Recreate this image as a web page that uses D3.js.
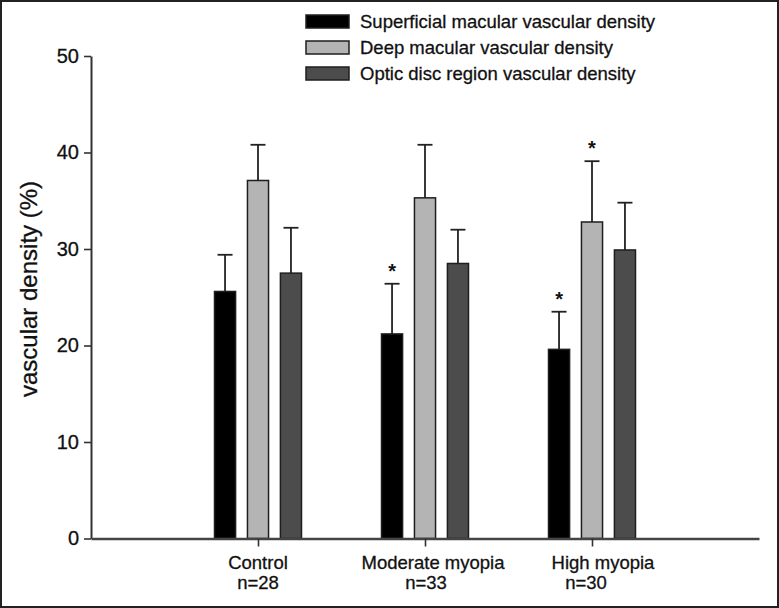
<!DOCTYPE html>
<html><head><meta charset="utf-8">
<script src="https://cdn.jsdelivr.net/npm/d3@7"></script>
<style>body{margin:0;background:#fff} text{font-family:Arial,"Liberation Sans",sans-serif}</style>
</head><body><svg id="c" width="779" height="608"></svg>
<script>
const categories = ["Control","Moderate myopia","High myopia"];
const groupSizes = ["n=28","n=33","n=30"];
const seriesNames = ["Superficial macular vascular density","Deep macular vascular density","Optic disc region vascular density"];
const superficial = [25.6, 21.2, 19.6];
const superficialSD = [3.8, 5.2, 3.9];
const deep = [37.1, 35.3, 32.8];
const deepSD = [3.7, 5.5, 6.3];
const optic = [27.5, 28.5, 29.9];
const opticSD = [4.7, 3.5, 4.9];
const superficialSig = [false, true, true];
const deepSig = [false, false, true];
const opticSig = [false, false, false];
const yTicks = [0, 10, 20, 30, 40, 50];
const seriesColors = ["#000000", "#b4b4b4", "#4c4c4c"];

const series = [
  {name: seriesNames[0], values: superficial, sd: superficialSD, sig: superficialSig, color: seriesColors[0]},
  {name: seriesNames[1], values: deep, sd: deepSD, sig: deepSig, color: seriesColors[1]},
  {name: seriesNames[2], values: optic, sd: opticSD, sig: opticSig, color: seriesColors[2]}
];

const svg = d3.select("#c");
const W = 779, H = 608;
const y = d3.scaleLinear().domain([0, 50]).range([538.5, 56]);
const x = d3.scaleLinear().domain([0, categories.length + 1]).range([91, 759]);
const xs = d3.scaleBand().domain(d3.range(series.length)).range([-43.5, 43.5]).paddingInner(0.36).paddingOuter(0);

// frame
svg.append("rect").attr("x", 1).attr("y", 1).attr("width", W - 2).attr("height", H - 2)
  .attr("fill", "#fff").attr("stroke", "#222").attr("stroke-width", 2);

// bars
const data = [];
series.forEach((s, si) => categories.forEach((c, ci) => data.push({si, ci, v: s.values[ci], sd: s.sd[ci], sig: s.sig[ci], color: s.color})));

const g = svg.append("g");
g.selectAll("rect.bar").data(data).enter().append("rect").attr("class", "bar")
  .attr("x", d => x(d.ci + 1) + xs(d.si))
  .attr("width", xs.bandwidth())
  .attr("y", d => y(d.v))
  .attr("height", d => y(0) - y(d.v))
  .attr("fill", d => d.color)
  .attr("stroke", "#1e1e1e").attr("stroke-width", 1.5);

// error bars
const cap = 15;
g.selectAll("line.err").data(data).enter().append("line").attr("class", "err")
  .attr("x1", d => x(d.ci + 1) + xs(d.si) + xs.bandwidth() / 2)
  .attr("x2", d => x(d.ci + 1) + xs(d.si) + xs.bandwidth() / 2)
  .attr("y1", d => y(d.v)).attr("y2", d => y(d.v + d.sd))
  .attr("stroke", "#222").attr("stroke-width", 1.8);
g.selectAll("line.cap").data(data).enter().append("line").attr("class", "cap")
  .attr("x1", d => x(d.ci + 1) + xs(d.si) + xs.bandwidth() / 2 - cap / 2)
  .attr("x2", d => x(d.ci + 1) + xs(d.si) + xs.bandwidth() / 2 + cap / 2)
  .attr("y1", d => y(d.v + d.sd)).attr("y2", d => y(d.v + d.sd))
  .attr("stroke", "#222").attr("stroke-width", 1.8);

// significance stars
g.selectAll("text.star").data(data.filter(d => d.sig)).enter().append("text").attr("class", "star")
  .attr("x", d => x(d.ci + 1) + xs(d.si) + xs.bandwidth() / 2)
  .attr("y", d => y(d.v + d.sd) - 6)
  .attr("text-anchor", "middle").attr("font-size", 20).attr("font-weight", "bold").attr("fill", "#111")
  .text("*");

const heavy = sel => sel.attr("stroke", "#111").attr("stroke-width", 0.3);

// y axis
const yAxis = svg.append("g").attr("transform", "translate(91,0)")
  .call(d3.axisLeft(y).tickValues(yTicks).tickSize(7).tickSizeOuter(0).tickPadding(5));
yAxis.select(".domain").attr("stroke", "#333").attr("stroke-width", 2);
yAxis.selectAll(".tick line").attr("stroke", "#333").attr("stroke-width", 1.6);
yAxis.selectAll(".tick text").attr("font-size", 20).attr("fill", "#111")
  .style("font-family", "Arial, 'Liberation Sans', sans-serif").call(heavy);

// x axis
const xAxis = svg.append("g").attr("transform", `translate(0,${y(0)})`)
  .call(d3.axisBottom(x).tickValues(d3.range(1, categories.length + 1)).tickSize(8).tickSizeOuter(0).tickFormat(""));
xAxis.select(".domain").attr("stroke", "#444").attr("stroke-width", 2.5);
xAxis.selectAll(".tick line").attr("stroke", "#333").attr("stroke-width", 1.6);

// category labels (two lines; small nudges mimic the original's alignment)
const labelNudge = [[0, 0], [8, 1], [11, -6]];
const lab = svg.append("g");
categories.forEach((c, i) => {
  const t = lab.append("text").attr("text-anchor", "middle").attr("font-size", 18.5).attr("fill", "#111").call(heavy);
  t.append("tspan").attr("x", x(i + 1) + labelNudge[i][0]).attr("y", y(0) + 30).text(c);
  t.append("tspan").attr("x", x(i + 1) + labelNudge[i][1]).attr("y", y(0) + 50).text(groupSizes[i]);
});

// y title
svg.append("text").attr("transform", "translate(37,289) rotate(-90)")
  .attr("text-anchor", "middle").attr("font-size", 24).attr("fill", "#111").call(heavy)
  .text("vascular density (%)");

// legend
const leg = svg.append("g").attr("transform", "translate(306,15)");
series.forEach((s, i) => {
  const row = leg.append("g").attr("transform", `translate(0,${i * 26})`);
  row.append("rect").attr("x", 0).attr("y", 0).attr("width", 43).attr("height", 13)
    .attr("fill", s.color).attr("stroke", "#1e1e1e").attr("stroke-width", 1.5);
  row.append("text").attr("x", 54).attr("y", 13).attr("font-size", 18.5).attr("fill", "#111").call(heavy).text(s.name);
});
</script></body></html>
